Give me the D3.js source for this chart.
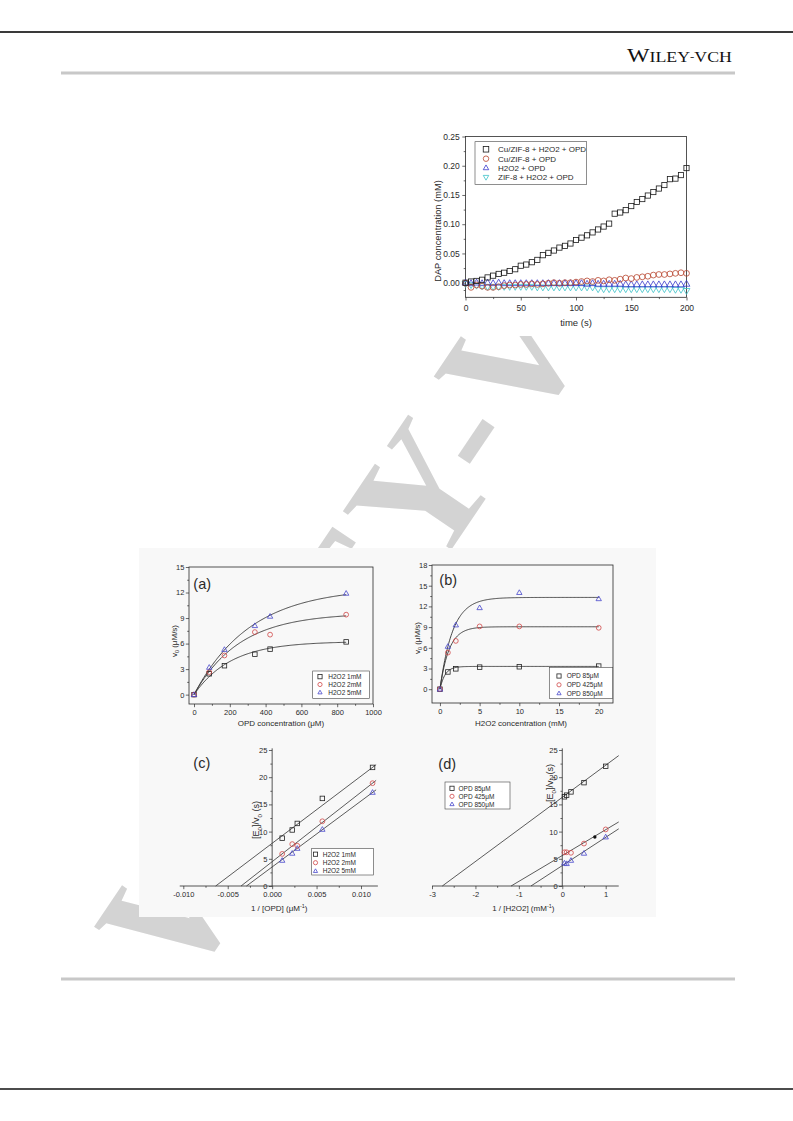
<!DOCTYPE html>
<html><head><meta charset="utf-8">
<script src="https://cdn.jsdelivr.net/npm/d3@7/dist/d3.min.js"></script>
<style>html,body{margin:0;padding:0;background:#fff}svg{display:block}</style>
</head><body>
<svg id="page" width="793" height="1121" xmlns="http://www.w3.org/2000/svg"></svg>
<script>
// ================= DATA =================
// Top chart: DAP concentration vs time
const timeS = [0,5,10,15,20,25,30,35,40,45,50,55,60,65,70,75,80,85,90,95,100,105,110,115,120,125,130,135,140,145,150,155,160,165,170,175,180,185,190,195,200];
const dapCuH2O2OPD = [0.000,0.002,0.003,0.005,0.009,0.012,0.015,0.017,0.020,0.023,0.029,0.031,0.035,0.039,0.047,0.051,0.055,0.060,0.063,0.067,0.073,0.077,0.081,0.086,0.091,0.096,0.101,0.118,0.120,0.124,0.131,0.138,0.143,0.149,0.155,0.161,0.167,0.177,0.178,0.184,0.196];
const dapCuOPD = [-0.001,-0.008,-0.004,-0.006,-0.008,-0.008,-0.007,-0.005,-0.004,-0.004,-0.003,-0.003,-0.002,-0.003,-0.002,-0.001,0.000,-0.001,0.000,0.000,0.001,0.002,0.003,0.002,0.004,0.003,0.005,0.004,0.006,0.008,0.007,0.009,0.010,0.011,0.013,0.014,0.014,0.015,0.016,0.017,0.016];
const dapH2O2OPD = [0.000,-0.001,0.000,-0.001,0.000,-0.001,0.000,-0.001,-0.001,-0.001,-0.001,-0.001,-0.001,-0.001,-0.001,-0.001,-0.001,-0.001,-0.001,-0.001,-0.001,-0.001,-0.002,-0.001,-0.002,-0.002,-0.002,-0.002,-0.002,-0.003,-0.003,-0.003,-0.003,-0.003,-0.003,-0.003,-0.003,-0.003,-0.003,-0.003,-0.002];
const dapZifH2O2OPD = [-0.002,-0.004,-0.005,-0.006,-0.007,-0.007,-0.007,-0.007,-0.007,-0.007,-0.007,-0.007,-0.007,-0.008,-0.008,-0.008,-0.008,-0.008,-0.008,-0.008,-0.008,-0.008,-0.008,-0.008,-0.011,-0.011,-0.011,-0.011,-0.011,-0.011,-0.011,-0.011,-0.011,-0.011,-0.011,-0.011,-0.011,-0.011,-0.012,-0.012,-0.014];
const dapNames = ["Cu/ZIF-8 + H2O2 + OPD","Cu/ZIF-8 + OPD","H2O2 + OPD","ZIF-8 + H2O2 + OPD"];
const dapXTicks = [0,50,100,150,200];
const dapYTicks = [0,0.05,0.10,0.15,0.20,0.25];

// (a) v0 vs OPD concentration
const opdConc = [0,85,170,340,425,850];
const aH2O2_1mM = [0,2.45,3.4,4.75,5.35,6.2];
const aH2O2_2mM = [0,2.65,4.6,7.35,7.05,9.4];
const aH2O2_5mM = [0,3.2,5.3,8.1,9.2,11.9];
const aNames = ["H2O2 1mM","H2O2 2mM","H2O2 5mM"];
const aFitVmax = [6.25,9.6,12.6];
const aFitTau = [205,255,315];
const aXTicks = [0,200,400,600,800,1000];
const aYTicks = [0,3,6,9,12,15];

// (b) v0 vs H2O2 concentration
const h2o2Conc = [0,1,2,5,10,20];
const bOPD_85 = [0,2.5,2.95,3.2,3.25,3.35];
const bOPD_425 = [0,5.3,7.0,9.1,9.1,8.9];
const bOPD_850 = [0,6.2,9.3,11.8,14.0,13.1];
const bNames = ["OPD 85\u03BCM","OPD 425\u03BCM","OPD 850\u03BCM"];
const bFitVmax = [3.3,9.05,13.3];
const bFitTau = [0.65,1.15,1.6];
const bXTicks = [0,5,10,15,20];
const bYTicks = [0,3,6,9,12,15,18];

// (c) Lineweaver-Burk, 1/[OPD]
const invOPD = [0.00113,0.00226,0.00283,0.00565,0.0113];
const cH2O2_1mM = [8.8,10.3,11.5,16.1,21.8];
const cH2O2_2mM = [5.9,7.7,7.4,11.9,18.9];
const cH2O2_5mM = [4.7,6.0,6.9,10.4,17.2];
const cFitIntercept = [7.85,4.47,3.5];
const cFitSlope = [1235,1277,1212];
const cXTicks = [-0.010,-0.005,0,0.005,0.010];
const cYTicks = [0,5,10,15,20,25];

// (d) Lineweaver-Burk, 1/[H2O2]
const invH2O2 = [0.05,0.1,0.2,0.5,1.0];
const dOPD_85 = [16.4,16.7,17.3,19.0,22.0];
const dOPD_425 = [6.2,6.2,6.1,7.8,10.4];
const dOPD_850 = [4.2,4.1,4.7,6.0,9.0];
const dExtraX = [0.75];
const dExtraY = [9.0];
const dFitIntercept = [16.3,5.6,3.75];
const dFitSlope = [5.9,4.75,5.2];
const dXTicks = [-3,-2,-1,0,1];
const dYTicks = [0,5,10,15,20,25];

// ================= DRAWING =================
const svg = d3.select('#page');
const SANS = "'Liberation Sans', Arial, Helvetica, sans-serif";
const SERIF = "'Liberation Serif', 'Times New Roman', serif";
const INK = '#2a2a2a';
const RED = '#d04848', BLUE = '#4848cc';

svg.append('rect').attr('width',793).attr('height',1121).attr('fill','#fff');

// watermark
const WMF = 170, WDX = 20, WDY = 26;
const wmG = svg.append('g').attr('transform','translate(474,440) rotate(-56)');
const wm = wmG.append('text').attr('font-family',SERIF).attr('font-size',WMF).attr('font-weight','bold')
  .attr('fill','#d3d3d3').attr('y',0.25*WMF + WDY).attr('x',0);
wm.append('tspan').text('W');
wm.append('tspan').attr('dx',WDX).attr('dy',-WDY).text('ILEY-VCH');
{
  const e = wm.node().getExtentOfChar(5);
  wm.attr('x', -(e.x + e.width/2));
}
// figure image backgrounds (cover the watermark)
svg.append('rect').attr('x',405).attr('y',36).attr('width',360).attr('height',300).attr('fill','#fff');
svg.append('rect').attr('x',139).attr('y',548).attr('width',517).attr('height',369).attr('fill','#f8f8f8');

// page header / footer rules
svg.append('line').attr('x1',0).attr('x2',793).attr('y1',32).attr('y2',32).attr('stroke','#3a3a3a').attr('stroke-width',2);
svg.append('line').attr('x1',61).attr('x2',735).attr('y1',73).attr('y2',73).attr('stroke','#c8c8c8').attr('stroke-width',3);
svg.append('line').attr('x1',61).attr('x2',735).attr('y1',979).attr('y2',979).attr('stroke','#c8c8c8').attr('stroke-width',3);
svg.append('line').attr('x1',0).attr('x2',793).attr('y1',1089).attr('y2',1089).attr('stroke','#111').attr('stroke-width',1.6);

const hdrG = svg.append('g');
const hdr = hdrG.append('text').attr('x',0).attr('y',0).attr('font-family',SERIF).attr('fill','#111');
hdr.append('tspan').attr('font-size',18.5).text('W');
hdr.append('tspan').attr('font-size',13.8).text('ILEY');
hdr.append('tspan').attr('font-size',10).attr('dy',-2.2).text('-');
hdr.append('tspan').attr('font-size',13.8).attr('dy',2.2).text('VCH');
{
  const w = hdr.node().getComputedTextLength();
  hdrG.attr('transform',`translate(627,62) scale(${105/w},1)`);
}

// ---------- helpers ----------
function txt(g, x, y, parts, o) {
  const t = g.append('text').attr('x',x).attr('y',y).attr('font-family',o.ff||SANS)
    .attr('font-size',o.fs).attr('fill',o.fill||INK).attr('text-anchor',o.anchor||'start');
  if (o.rot) t.attr('transform',`rotate(${o.rot},${x},${y})`);
  let shift = 0;
  parts.forEach(p => {
    const [s,k] = Array.isArray(p) ? p : [p,'n'];
    const ts = t.append('tspan').text(s);
    const target = k==='sub' ? o.fs*0.3 : (k==='sup' ? -o.fs*0.42 : 0);
    if (target !== shift) { ts.attr('dy', target - shift); shift = target; }
    if (k !== 'n') ts.attr('font-size', o.fs*0.68);
  });
  return t;
}
function styleAxis(sel, fs) {
  sel.attr('font-family',null).attr('font-size',null);
  sel.selectAll('.domain').remove();
  sel.selectAll('line').attr('stroke',INK).attr('stroke-width',0.7);
  sel.selectAll('text').attr('font-family',SANS).attr('font-size',fs).attr('fill',INK);
}
function minorOf(ticks) {
  const out = [];
  for (let i=0;i<ticks.length-1;i++) out.push((ticks[i]+ticks[i+1])/2);
  return out;
}
const fmtMinus = f => d => f(d).replace('\u2212','-');

function markers(g, xs, ys, xS, yS, type, s, color, sw) {
  const pts = xs.map((x,i)=>[xS(x), yS(ys[i])]);
  const sel = g.append('g').attr('fill','none').attr('stroke',color).attr('stroke-width',sw||0.8);
  if (type==='square') {
    sel.selectAll('rect').data(pts).join('rect')
      .attr('x',d=>d[0]-s/2).attr('y',d=>d[1]-s/2).attr('width',s).attr('height',s);
  } else if (type==='circle') {
    sel.selectAll('circle').data(pts).join('circle').attr('cx',d=>d[0]).attr('cy',d=>d[1]).attr('r',s/2);
  } else {
    const h = s*0.866, dir = type==='up' ? 1 : -1;
    sel.selectAll('path').data(pts).join('path').attr('d',d=>{
      const [cx,cy]=d;
      return `M${cx},${cy-dir*h*0.6}L${cx-s/2},${cy+dir*h*0.4}L${cx+s/2},${cy+dir*h*0.4}Z`;
    });
  }
}
function symbolAt(g, cx, cy, type, s, color) {
  markers(g,[0],[0],()=>cx,()=>cy,type,s,color);
}
function legend(g, box, rowsY, symX, textX, items, fs, s) {
  g.append('rect').attr('x',box[0]).attr('y',box[1]).attr('width',box[2]-box[0]).attr('height',box[3]-box[1])
    .attr('fill','#fff').attr('stroke','#444').attr('stroke-width',0.6);
  items.forEach((it,i)=>{
    symbolAt(g, symX, rowsY[i], it.type, s, it.color);
    txt(g, textX, rowsY[i]+fs*0.36, [it.label], {fs:fs});
  });
}

function framePanel(p) {
  const g = svg.append('g');
  const x = d3.scaleLinear().domain(p.xDom).range([p.L,p.R]);
  const y = d3.scaleLinear().domain(p.yDom).range([p.B,p.T]);
  g.append('g').attr('transform',`translate(0,${p.B})`)
    .call(d3.axisBottom(x).tickValues(p.xMinor).tickSize(1.8).tickFormat(''))
    .call(s=>styleAxis(s,p.fs));
  g.append('g').attr('transform',`translate(0,${p.B})`)
    .call(d3.axisBottom(x).tickValues(p.xTicks).tickSize(3.2).tickPadding(p.xPad).tickFormat(p.xFmt))
    .call(s=>styleAxis(s,p.fs));
  g.append('g').attr('transform',`translate(${p.L},0)`)
    .call(d3.axisLeft(y).tickValues(p.yMinor).tickSize(1.8).tickFormat(''))
    .call(s=>styleAxis(s,p.fs));
  g.append('g').attr('transform',`translate(${p.L},0)`)
    .call(d3.axisLeft(y).tickValues(p.yTicks).tickSize(3.2).tickPadding(p.yPad).tickFormat(p.yFmt))
    .call(s=>styleAxis(s,p.fs));
  g.append('rect').attr('x',p.L).attr('y',p.T).attr('width',p.R-p.L).attr('height',p.B-p.T)
    .attr('fill','none').attr('stroke',INK).attr('stroke-width',0.8);
  return {g,x,y};
}
function crossPanel(p) {
  const g = svg.append('g');
  const x = d3.scaleLinear().domain(p.xDom).range(p.xRange);
  const y = d3.scaleLinear().domain(p.yDom).range(p.yRange);
  const y0 = y(0), x0 = x(0);
  g.append('g').attr('transform',`translate(0,${y0})`)
    .call(d3.axisBottom(x).tickValues(p.xMinor).tickSize(1.8).tickFormat(''))
    .call(s=>styleAxis(s,p.fs));
  g.append('g').attr('transform',`translate(0,${y0})`)
    .call(d3.axisBottom(x).tickValues(p.xTicks).tickSize(3.2).tickPadding(p.xPad).tickFormat(p.xFmt))
    .call(s=>styleAxis(s,p.fs));
  g.append('g').attr('transform',`translate(${x0},0)`)
    .call(d3.axisLeft(y).tickValues(p.yMinor).tickSize(1.8).tickFormat(''))
    .call(s=>styleAxis(s,p.fs));
  g.append('g').attr('transform',`translate(${x0},0)`)
    .call(d3.axisLeft(y).tickValues(p.yTicks).tickSize(3.2).tickPadding(p.yPad).tickFormat(p.yFmt))
    .call(s=>styleAxis(s,p.fs));
  g.append('line').attr('x1',x(p.xExt[0])).attr('x2',x(p.xExt[1])).attr('y1',y0).attr('y2',y0).attr('stroke',INK).attr('stroke-width',0.8);
  g.append('line').attr('x1',x0).attr('x2',x0).attr('y1',y(p.yExt[0])).attr('y2',y(p.yExt[1])).attr('stroke',INK).attr('stroke-width',0.8);
  return {g,x,y};
}

// ---------- Top chart ----------
{
  const P = framePanel({L:465.5,R:686.5,T:136.5,B:297.3,xDom:[0,200],yDom:[-0.025,0.25],
    xTicks:dapXTicks, xMinor:minorOf(dapXTicks), yTicks:dapYTicks,
    yMinor:[-0.0125].concat(minorOf(dapYTicks)),
    xFmt:d3.format('d'), yFmt:d3.format('.2f'), xPad:4, yPad:2.5, fs:8.5});
  const {g,x,y} = P;
  const gm = g.append('g');
  markers(gm, timeS, dapZifH2O2OPD, x, y, 'down', 6.8, '#3cc2c8', 0.8);
  markers(gm, timeS, dapH2O2OPD, x, y, 'up', 6.8, '#3a3acc', 0.8);
  markers(gm, timeS, dapCuOPD, x, y, 'circle', 5.8, '#b8452f', 0.8);
  markers(gm, timeS, dapCuH2O2OPD, x, y, 'square', 5.2, '#1a1a1a', 0.8);
  legend(g,[475,141.7,586.7,184.3],[149.3,158.7,167.8,177.3],486,498,[
    {type:'square',color:'#1a1a1a',label:dapNames[0]},
    {type:'circle',color:'#b8452f',label:dapNames[1]},
    {type:'up',color:'#3a3acc',label:dapNames[2]},
    {type:'down',color:'#3cc2c8',label:dapNames[3]}],8,5.5);
  txt(g, 576, 325.5, ['time (s)'], {fs:9.5, anchor:'middle'});
  txt(g, 441.3, 231, ['DAP concentration (mM)'], {fs:9.3, anchor:'middle', rot:-90});
}

// ---------- (a) ----------
{
  const P = framePanel({L:189,R:373,T:567,B:704,xDom:[-28,1000],yDom:[-1.1,15],
    xTicks:aXTicks, xMinor:minorOf(aXTicks), yTicks:aYTicks, yMinor:minorOf(aYTicks),
    xFmt:d3.format('d'), yFmt:d3.format('d'), xPad:2.5, yPad:1.5, fs:7.5});
  const {g,x,y} = P;
  const line = d3.line().x(d=>x(d[0])).y(d=>y(d[1]));
  const xs = d3.range(0, 851, 5);
  aFitVmax.forEach((A,i)=>{
    g.append('path').attr('d', line(xs.map(v=>[v, A*(1-Math.exp(-v/aFitTau[i]))])))
      .attr('fill','none').attr('stroke','#333').attr('stroke-width',0.9);
  });
  markers(g, opdConc, aH2O2_1mM, x, y, 'square', 4.5, '#222');
  markers(g, opdConc, aH2O2_2mM, x, y, 'circle', 4.8, RED);
  markers(g, opdConc, aH2O2_5mM, x, y, 'up', 5.4, BLUE);
  legend(g,[312.7,671,369.3,698.3],[676.7,684.5,692.4],320,328.3,[
    {type:'square',color:'#222',label:aNames[0]},
    {type:'circle',color:RED,label:aNames[1]},
    {type:'up',color:BLUE,label:aNames[2]}],6.5,4.2);
  txt(g, 193.3, 588.6, ['(a)'], {fs:14.5});
  txt(g, 281, 726, ['OPD concentration (\u03BCM)'], {fs:8, anchor:'middle'});
  txt(g, 177, 641, ['v',['0','sub'],' (\u03BCM/s)'], {fs:8, anchor:'middle', rot:-90});
}

// ---------- (b) ----------
{
  const P = framePanel({L:432,R:613,T:565,B:703,xDom:[-1,21.8],yDom:[-2,18],
    xTicks:bXTicks, xMinor:minorOf(bXTicks), yTicks:bYTicks, yMinor:minorOf(bYTicks),
    xFmt:d3.format('d'), yFmt:d3.format('d'), xPad:2.5, yPad:1.5, fs:7.5});
  const {g,x,y} = P;
  const line = d3.line().x(d=>x(d[0])).y(d=>y(d[1]));
  const xs = d3.range(0, 20.01, 0.1);
  bFitVmax.forEach((A,i)=>{
    g.append('path').attr('d', line(xs.map(v=>[v, A*(1-Math.exp(-v/bFitTau[i]))])))
      .attr('fill','none').attr('stroke','#333').attr('stroke-width',0.9);
  });
  markers(g, h2o2Conc, bOPD_85, x, y, 'square', 4.5, '#222');
  markers(g, h2o2Conc, bOPD_425, x, y, 'circle', 4.8, RED);
  markers(g, h2o2Conc, bOPD_850, x, y, 'up', 5.4, BLUE);
  legend(g,[549.3,667.3,612.7,698.3],[676,684.8,693.3],559,566.7,[
    {type:'square',color:'#222',label:bNames[0]},
    {type:'circle',color:RED,label:bNames[1]},
    {type:'up',color:BLUE,label:bNames[2]}],6.5,4.2);
  txt(g, 439.3, 585.3, ['(b)'], {fs:14.5});
  txt(g, 521, 726, ['H2O2 concentration (mM)'], {fs:8, anchor:'middle'});
  txt(g, 420, 638, ['v',['0','sub'],' (\u03BCM/s)'], {fs:8, anchor:'middle', rot:-90});
}

// ---------- (c) ----------
{
  const P = crossPanel({xDom:[-0.010,0.010], xRange:[183.3,361], yDom:[0,25], yRange:[886,750],
    xExt:[-0.0104,0.0119], yExt:[0,25.3],
    xTicks:cXTicks, xMinor:[-0.0075,-0.0025,0.0025,0.0075], yTicks:cYTicks, yMinor:minorOf(cYTicks),
    xFmt:fmtMinus(d3.format('.3f')), yFmt:d3.format('d'), xPad:2.5, yPad:1.5, fs:7.5});
  const {g,x,y} = P;
  cFitIntercept.forEach((b,i)=>{
    const m = cFitSlope[i];
    g.append('line').attr('x1',x(-b/m)).attr('y1',y(0)).attr('x2',x(0.0117)).attr('y2',y(b+m*0.0117))
      .attr('stroke','#333').attr('stroke-width',0.8);
  });
  markers(g, invOPD, cH2O2_1mM, x, y, 'square', 4.5, '#222');
  markers(g, invOPD, cH2O2_2mM, x, y, 'circle', 4.8, RED);
  markers(g, invOPD, cH2O2_5mM, x, y, 'up', 5.4, BLUE);
  legend(g,[311.7,848.3,373.3,875],[854.2,862.7,871],315.5,322.7,[
    {type:'square',color:'#222',label:aNames[0]},
    {type:'circle',color:RED,label:aNames[1]},
    {type:'up',color:BLUE,label:aNames[2]}],6.5,4.2);
  txt(g, 193.3, 768, ['(c)'], {fs:14.5});
  txt(g, 279.2, 911, ['1 / [OPD] (\u03BCM',['-1','sup'],')'], {fs:8, anchor:'middle'});
  txt(g, 259, 820, ['[E',['0','sub'],']/v',['0','sub'],' (s)'], {fs:9, anchor:'middle', rot:-90});
}

// ---------- (d) ----------
{
  const P = crossPanel({xDom:[-3,1], xRange:[432,605.7], yDom:[0,25], yRange:[886,750],
    xExt:[-3,1.3], yExt:[0,25.3],
    xTicks:dXTicks, xMinor:[-2.5,-1.5,-0.5,0.5], yTicks:dYTicks, yMinor:minorOf(dYTicks),
    xFmt:fmtMinus(d3.format('d')), yFmt:d3.format('d'), xPad:2.5, yPad:1.5, fs:7.5});
  const {g,x,y} = P;
  dFitIntercept.forEach((b,i)=>{
    const m = dFitSlope[i];
    g.append('line').attr('x1',x(-b/m)).attr('y1',y(0)).attr('x2',x(1.3)).attr('y2',y(b+m*1.3))
      .attr('stroke','#333').attr('stroke-width',0.8);
  });
  markers(g, invH2O2, dOPD_85, x, y, 'square', 4.5, '#222');
  markers(g, invH2O2, dOPD_425, x, y, 'circle', 4.8, RED);
  markers(g, invH2O2, dOPD_850, x, y, 'up', 5.4, BLUE);
  g.selectAll('circle.extra').data(dExtraX).join('circle').attr('class','extra')
    .attr('cx',d=>x(d)).attr('cy',(d,i)=>y(dExtraY[i])).attr('r',1.7).attr('fill','#111');
  legend(g,[445,782,510,809],[788.3,796.3,804.2],452,458.5,[
    {type:'square',color:'#222',label:bNames[0]},
    {type:'circle',color:RED,label:bNames[1]},
    {type:'up',color:BLUE,label:bNames[2]}],6.5,4.2);
  txt(g, 438.3, 768.6, ['(d)'], {fs:14.5});
  txt(g, 523.3, 911, ['1 / [H2O2] (mM',['-1','sup'],')'], {fs:8, anchor:'middle'});
  txt(g, 553, 783, ['[E',['0','sub'],']/v',['0','sub'],' (s)'], {fs:9, anchor:'middle', rot:-90});
}
</script>
</body></html>
